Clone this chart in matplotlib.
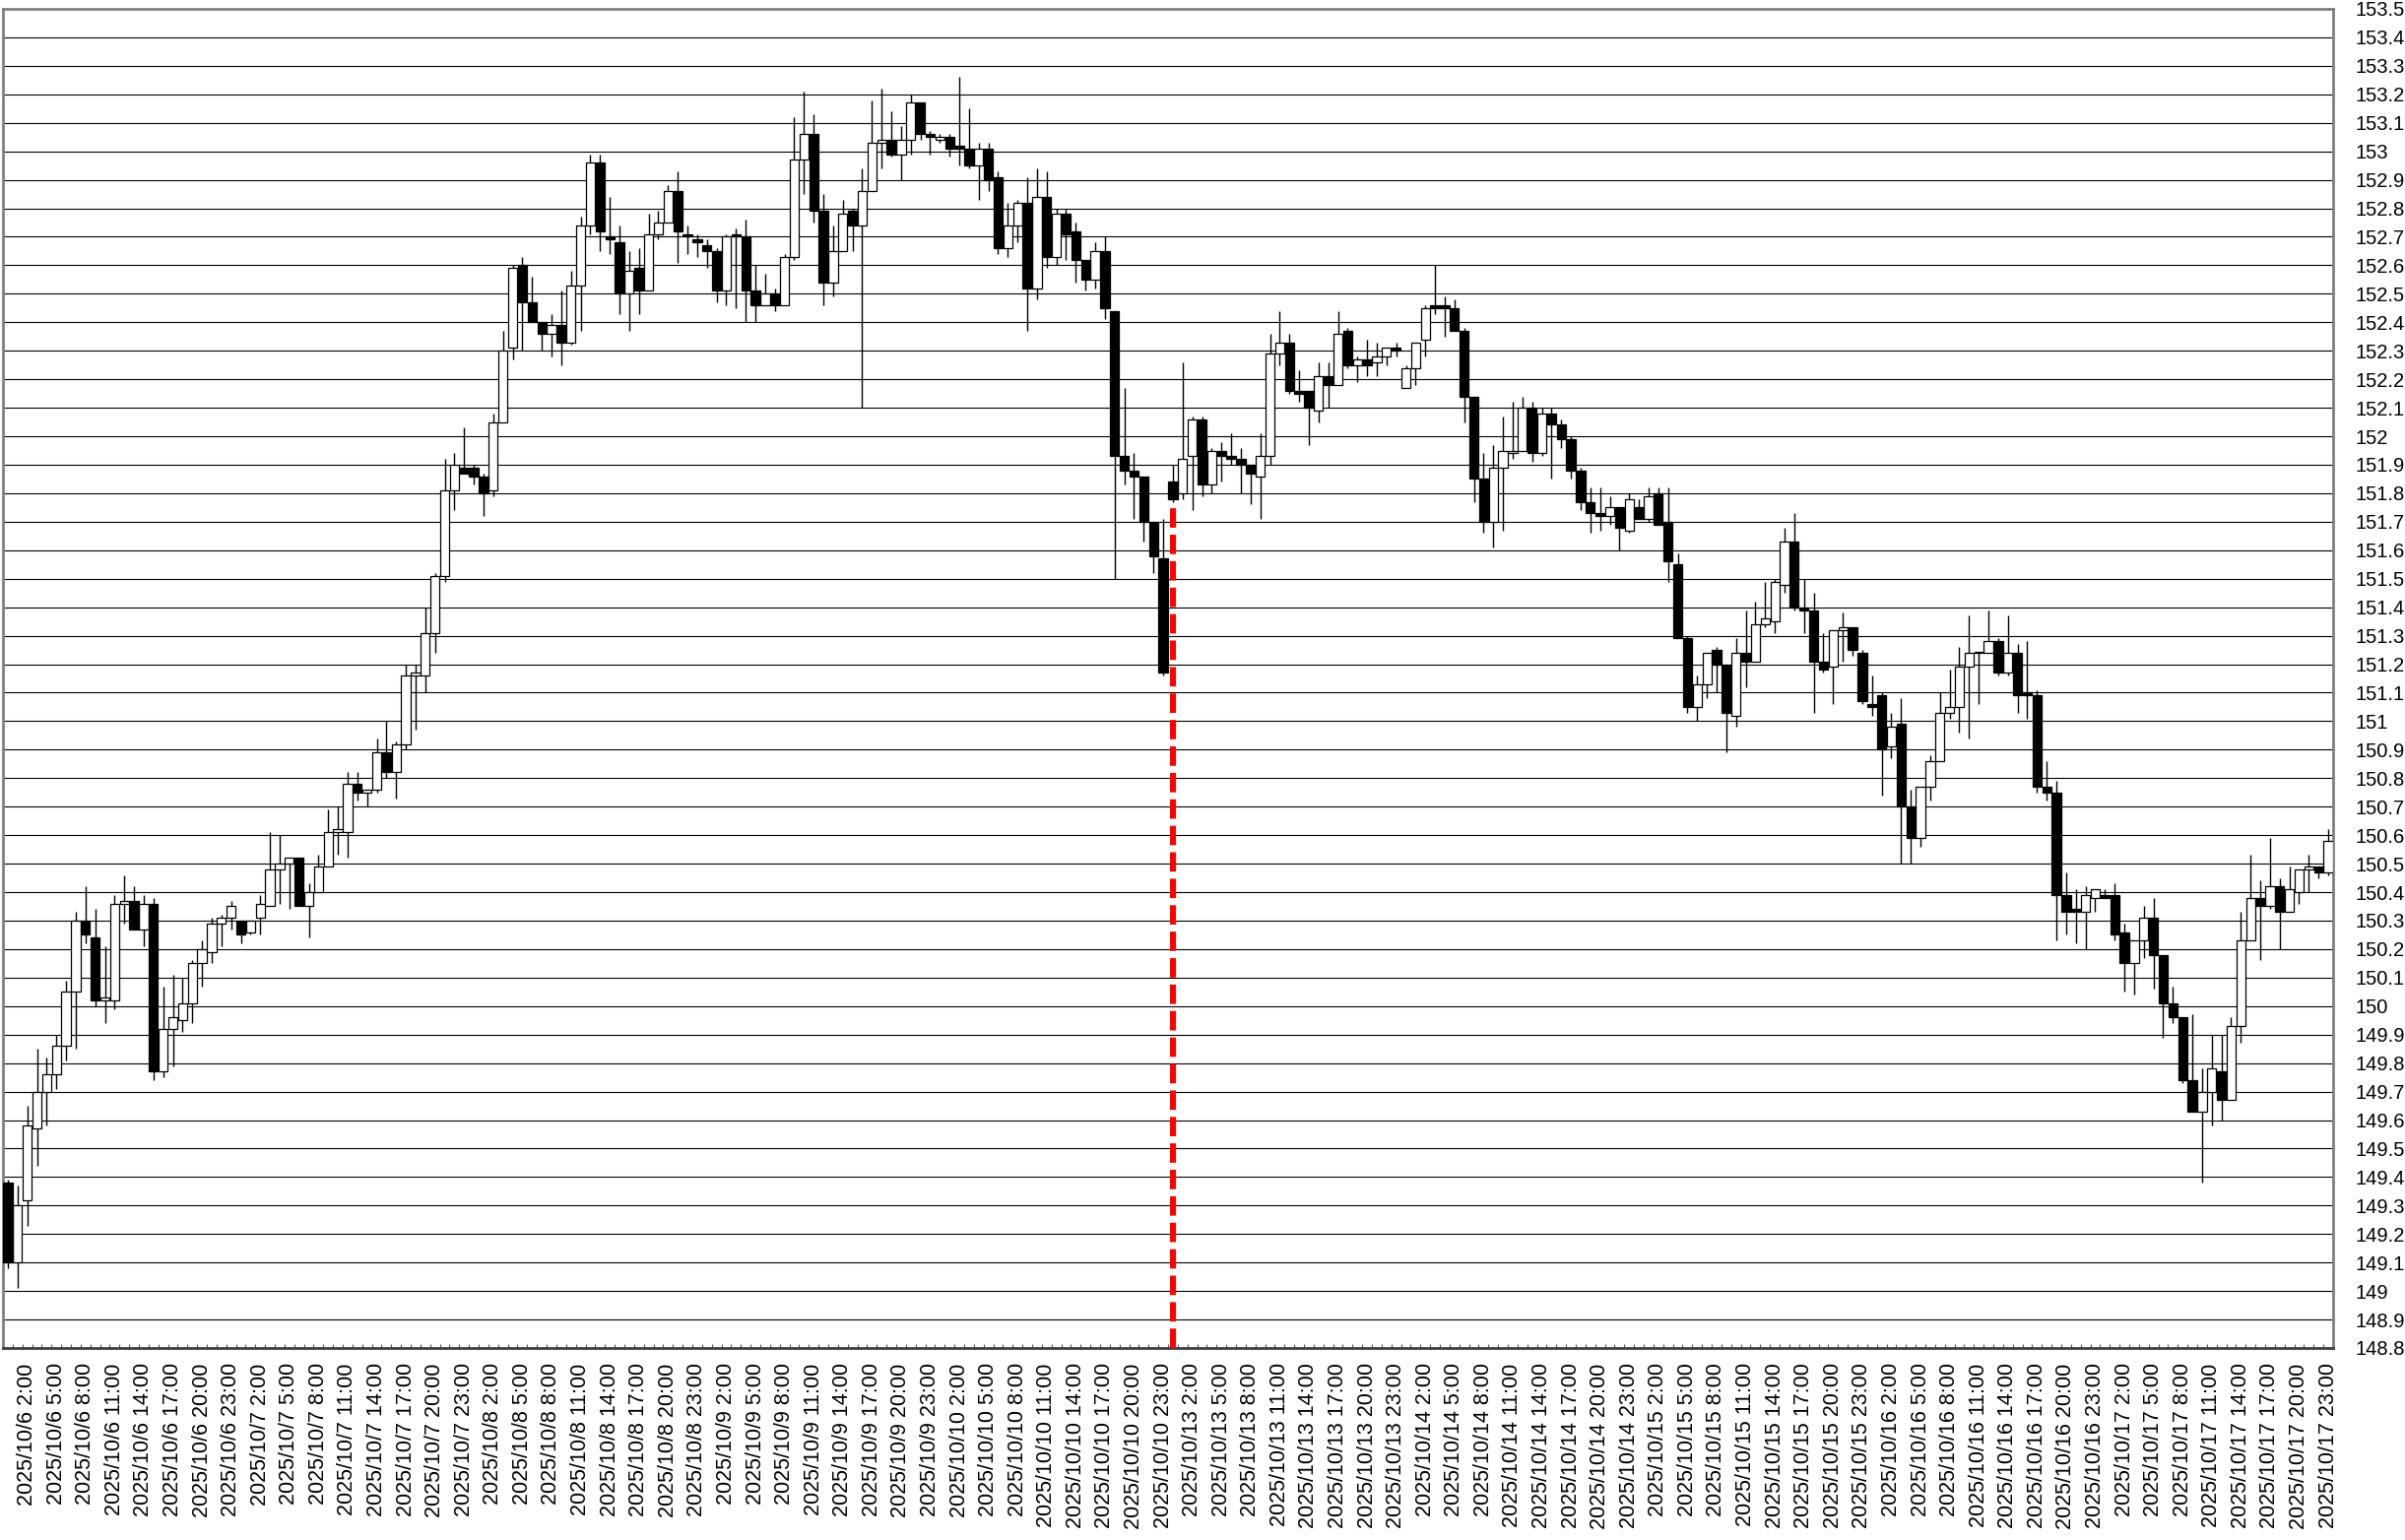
import matplotlib.pyplot as plt
import numpy as np

# hourly candles, weekend 10/11-10/12 skipped
days = [6, 7, 8, 9, 10, 13, 14, 15, 16, 17]
hours = list(range(24))

opens = [
    149.38, 149.10, 149.32, 149.57, 149.70, 149.76, 149.86, 150.05, 150.30, 150.24,
    150.02, 150.02, 150.36, 150.37, 150.27, 150.36, 149.77, 149.92, 149.95, 150.01,
    150.15, 150.19, 150.29, 150.31, 150.30, 150.26, 150.31, 150.35, 150.48, 150.50,
    150.52, 150.35, 150.40, 150.49, 150.61, 150.61, 150.78, 150.75, 150.76, 150.89,
    150.82, 150.92, 151.16, 151.16, 151.31, 151.51, 151.81, 151.89, 151.89, 151.86,
    151.81, 152.05, 152.31, 152.60, 152.47, 152.40, 152.36, 152.39, 152.33, 152.53,
    152.74, 152.96, 152.70, 152.68, 152.50, 152.59, 152.51, 152.71, 152.75, 152.86,
    152.71, 152.69, 152.67, 152.65, 152.51, 152.71, 152.70, 152.51, 152.46, 152.50,
    152.46, 152.63, 152.97, 153.06, 152.79, 152.54, 152.65, 152.79, 152.74, 152.86,
    153.03, 153.04, 152.99, 153.04, 153.17, 153.06, 153.04, 153.05, 153.02, 153.01,
    152.95, 153.01, 152.91, 152.66, 152.74, 152.82, 152.52, 152.84, 152.63, 152.78,
    152.72, 152.62, 152.55, 152.65, 152.44, 151.93, 151.88, 151.86, 151.70, 151.57,
    151.84, 151.80, 151.93, 152.06, 151.83, 151.95, 151.93, 151.92, 151.90, 151.86,
    151.93, 152.29, 152.33, 152.16, 152.16, 152.09, 152.21, 152.18, 152.37, 152.25,
    152.27, 152.26, 152.28, 152.31, 152.17, 152.24, 152.34, 152.46, 152.46, 152.45,
    152.37, 152.14, 151.85, 151.70, 151.89, 151.94, 151.95, 152.10, 151.94, 152.08,
    152.04, 151.99, 151.88, 151.77, 151.73, 151.72, 151.75, 151.67, 151.75, 151.71,
    151.80, 151.70, 151.55, 151.29, 151.05, 151.13, 151.25, 151.20, 151.02, 151.24,
    151.21, 151.34, 151.35, 151.48, 151.63, 151.40, 151.39, 151.21, 151.19, 151.32,
    151.33, 151.24, 151.06, 151.09, 150.91, 150.99, 150.70, 150.59, 150.77, 150.86,
    151.03, 151.05, 151.19, 151.24, 151.24, 151.28, 151.17, 151.24, 151.10, 151.09,
    150.77, 150.75, 150.39, 150.34, 150.33, 150.38, 150.39, 150.39, 150.26, 150.15,
    150.23, 150.31, 150.18, 150.01, 149.96, 149.74, 149.63, 149.70, 149.77, 149.67,
    149.93, 150.23, 150.38, 150.35, 150.42, 150.33, 150.40, 150.48, 150.49, 150.47,
]

highs = [
    149.39, 149.37, 149.65, 149.85, 149.82, 149.90, 150.09, 150.33, 150.42, 150.34,
    150.21, 150.39, 150.46, 150.42, 150.39, 150.38, 150.07, 150.11, 150.10, 150.16,
    150.23, 150.31, 150.32, 150.37, 150.30, 150.30, 150.39, 150.61, 150.60, 150.52,
    150.52, 150.43, 150.53, 150.69, 150.70, 150.82, 150.82, 150.76, 150.94, 151.00,
    150.93, 151.20, 151.20, 151.40, 151.52, 151.92, 151.94, 152.03, 151.90, 151.87,
    152.08, 152.37, 152.60, 152.63, 152.56, 152.40, 152.43, 152.51, 152.58, 152.77,
    152.99, 152.99, 152.84, 152.74, 152.65, 152.66, 152.78, 152.79, 152.88, 152.93,
    152.74, 152.71, 152.69, 152.66, 152.71, 152.73, 152.76, 152.60, 152.57, 152.52,
    152.64, 153.12, 153.21, 153.13, 152.85, 152.74, 152.83, 152.80, 152.94, 153.18,
    153.22, 153.14, 153.09, 153.20, 153.17, 153.07, 153.06, 153.06, 153.26, 153.15,
    153.03, 153.03, 152.93, 152.82, 152.83, 152.91, 152.94, 152.93, 152.80, 152.80,
    152.75, 152.62, 152.68, 152.70, 152.44, 152.17, 151.94, 151.86, 151.70, 151.71,
    151.90, 152.26, 152.07, 152.07, 151.96, 151.98, 152.01, 151.96, 151.90, 152.01,
    152.36, 152.44, 152.36, 152.23, 152.16, 152.26, 152.26, 152.44, 152.38, 152.28,
    152.34, 152.33, 152.31, 152.33, 152.25, 152.33, 152.46, 152.60, 152.49, 152.48,
    152.38, 152.14, 151.94, 151.97, 152.07, 152.12, 152.14, 152.12, 152.10, 152.10,
    152.06, 152.00, 151.89, 151.82, 151.82, 151.79, 151.75, 151.80, 151.78, 151.82,
    151.82, 151.82, 151.59, 151.30, 151.16, 151.24, 151.26, 151.20, 151.29, 151.39,
    151.42, 151.49, 151.50, 151.68, 151.73, 151.50, 151.45, 151.31, 151.32, 151.38,
    151.33, 151.25, 151.16, 151.10, 151.03, 151.08, 150.76, 150.77, 150.88, 151.10,
    151.18, 151.26, 151.37, 151.24, 151.39, 151.29, 151.37, 151.27, 151.28, 151.11,
    150.86, 150.79, 150.47, 150.41, 150.42, 150.41, 150.41, 150.43, 150.29, 150.23,
    150.35, 150.38, 150.18, 150.07, 149.96, 149.97, 149.78, 149.90, 149.90, 149.96,
    150.33, 150.53, 150.44, 150.59, 150.45, 150.49, 150.48, 150.53, 150.49, 150.62,
]

lows = [
    149.08, 149.01, 149.23, 149.44, 149.58, 149.71, 149.81, 149.85, 150.22, 150.00,
    149.94, 149.99, 150.29, 150.27, 150.21, 149.74, 149.75, 149.79, 149.91, 149.94,
    150.07, 150.15, 150.21, 150.27, 150.22, 150.25, 150.25, 150.35, 150.36, 150.34,
    150.35, 150.24, 150.40, 150.49, 150.53, 150.52, 150.72, 150.70, 150.75, 150.80,
    150.73, 150.90, 150.97, 151.10, 151.24, 151.49, 151.74, 151.87, 151.83, 151.72,
    151.79, 152.05, 152.27, 152.30, 152.40, 152.30, 152.28, 152.25, 152.32, 152.37,
    152.71, 152.65, 152.64, 152.43, 152.37, 152.43, 152.51, 152.69, 152.75, 152.61,
    152.64, 152.63, 152.59, 152.47, 152.46, 152.45, 152.40, 152.40, 152.46, 152.44,
    152.46, 152.62, 152.85, 152.75, 152.46, 152.49, 152.65, 152.65, 152.10, 152.86,
    152.94, 152.98, 152.90, 152.99, 153.04, 152.99, 153.03, 152.98, 152.95, 152.94,
    152.83, 152.86, 152.64, 152.63, 152.68, 152.37, 152.48, 152.59, 152.60, 152.62,
    152.54, 152.51, 152.52, 152.41, 151.50, 151.83, 151.71, 151.63, 151.52, 151.16,
    151.77, 151.78, 151.74, 151.79, 151.80, 151.84, 151.90, 151.80, 151.76, 151.71,
    151.90, 152.25, 152.15, 152.12, 151.97, 152.05, 152.10, 152.18, 152.24, 152.19,
    152.21, 152.21, 152.25, 152.28, 152.17, 152.18, 152.28, 152.43, 152.35, 152.37,
    152.05, 151.77, 151.66, 151.61, 151.67, 151.92, 151.95, 151.91, 151.93, 151.85,
    151.96, 151.85, 151.74, 151.66, 151.67, 151.69, 151.60, 151.66, 151.71, 151.70,
    151.69, 151.49, 151.29, 151.03, 151.00, 151.08, 151.10, 150.89, 150.98, 151.12,
    151.21, 151.33, 151.31, 151.45, 151.39, 151.31, 151.03, 151.17, 151.06, 151.21,
    151.23, 151.06, 151.02, 150.74, 150.87, 150.50, 150.50, 150.56, 150.72, 150.86,
    151.01, 150.96, 150.94, 151.06, 151.24, 151.16, 151.16, 151.03, 151.01, 150.75,
    150.72, 150.23, 150.25, 150.22, 150.20, 150.33, 150.38, 150.23, 150.05, 150.04,
    150.17, 150.06, 149.89, 149.94, 149.73, 149.63, 149.38, 149.58, 149.60, 149.67,
    149.87, 150.23, 150.16, 150.34, 150.20, 150.33, 150.36, 150.40, 150.45, 150.46,
]

closes = [
    149.10, 149.30, 149.58, 149.70, 149.76, 149.86, 150.05, 150.30, 150.25, 150.02,
    150.03, 150.36, 150.37, 150.27, 150.36, 149.77, 149.92, 149.96, 150.01, 150.15,
    150.20, 150.29, 150.31, 150.35, 150.25, 150.30, 150.36, 150.48, 150.50, 150.52,
    150.35, 150.40, 150.49, 150.61, 150.62, 150.78, 150.75, 150.76, 150.89, 150.82,
    150.92, 151.16, 151.17, 151.31, 151.51, 151.81, 151.90, 151.87, 151.86, 151.80,
    152.05, 152.30, 152.59, 152.47, 152.40, 152.36, 152.39, 152.33, 152.53, 152.74,
    152.96, 152.72, 152.69, 152.50, 152.58, 152.51, 152.71, 152.75, 152.86, 152.72,
    152.70, 152.68, 152.65, 152.51, 152.70, 152.70, 152.51, 152.46, 152.50, 152.46,
    152.63, 152.97, 153.06, 152.79, 152.54, 152.65, 152.78, 152.74, 152.86, 153.03,
    153.04, 152.99, 153.04, 153.17, 153.06, 153.05, 153.05, 153.01, 153.01, 152.95,
    153.01, 152.90, 152.66, 152.74, 152.82, 152.52, 152.84, 152.63, 152.78, 152.71,
    152.62, 152.55, 152.65, 152.45, 151.93, 151.88, 151.86, 151.70, 151.58, 151.17,
    151.78, 151.92, 152.06, 151.83, 151.95, 151.93, 151.92, 151.90, 151.87, 151.93,
    152.29, 152.33, 152.16, 152.15, 152.10, 152.21, 152.18, 152.36, 152.25, 152.27,
    152.25, 152.28, 152.31, 152.30, 152.24, 152.33, 152.45, 152.45, 152.45, 152.37,
    152.14, 151.85, 151.70, 151.89, 151.95, 151.95, 152.10, 151.94, 152.08, 152.04,
    151.99, 151.88, 151.77, 151.73, 151.72, 151.75, 151.68, 151.78, 151.71, 151.79,
    151.69, 151.56, 151.29, 151.05, 151.13, 151.24, 151.20, 151.03, 151.24, 151.21,
    151.34, 151.36, 151.49, 151.63, 151.40, 151.39, 151.21, 151.18, 151.32, 151.33,
    151.25, 151.07, 151.05, 150.90, 150.98, 150.70, 150.59, 150.77, 150.86, 151.03,
    151.05, 151.19, 151.24, 151.24, 151.28, 151.17, 151.24, 151.09, 151.09, 150.77,
    150.75, 150.39, 150.33, 150.33, 150.39, 150.41, 150.38, 150.25, 150.15, 150.23,
    150.31, 150.18, 150.01, 149.96, 149.74, 149.63, 149.70, 149.78, 149.67, 149.93,
    150.23, 150.38, 150.35, 150.42, 150.33, 150.41, 150.48, 150.49, 150.47, 150.58,
]

# red dashed marker (week start) and its top price
marker_index = 120
marker_top = 151.75

labels = ['2025/10/%d %d:00' % (d, h) for d in days for h in hours]

o = np.array(opens)
h = np.array(highs)
l = np.array(lows)
c = np.array(closes)
x = np.arange(len(o))
up = c >= o

fig = plt.figure(figsize=(24.42, 15.64), dpi=100)
ax = fig.add_axes([3 / 2442, 195 / 1564, 2366 / 2442, 1360 / 1564])

ax.vlines(x, l, h, colors='black', linewidth=1.0, zorder=2)
body_low = np.minimum(o, c)
body_h = np.maximum(np.abs(c - o), 0.004)
ax.bar(x[up], body_h[up], bottom=body_low[up], width=0.94,
       color='white', edgecolor='black', linewidth=0.9, zorder=3)
ax.bar(x[~up], body_h[~up], bottom=body_low[~up], width=0.94,
       color='black', edgecolor='black', linewidth=0.9, zorder=3)

ax.plot([marker_index, marker_index], [148.8, marker_top], color='red',
        linewidth=4.3, dashes=(3.3, 1.2), zorder=4)

ax.set_xlim(-0.5, len(o) - 0.5)
ax.set_ylim(148.8, 153.5)

yt = np.round(np.arange(148.8, 153.51, 0.1), 1)
ax.set_yticks(yt)
ax.set_yticklabels(['%g' % v for v in yt],
                   family=['Liberation Sans Narrow', 'Liberation Sans', 'DejaVu Sans'])
ax.yaxis.tick_right()
ax.tick_params(axis='y', length=0, pad=16, labelsize=14.5)
ax.grid(axis='y', color='black', linewidth=0.8)
ax.set_axisbelow(True)

ax.set_xticks(x[2::3])
ax.set_xticklabels(labels[2::3], rotation=90, fontsize=15.5,
                   family=['Liberation Sans', 'DejaVu Sans'])
ax.set_xticks(np.arange(-0.5, len(o), 1), minor=True)
ax.tick_params(axis='x', which='major', length=0, pad=11)
ax.tick_params(axis='x', which='minor', direction='in', length=3, width=0.8,
               color='#555555')

for side in ['left', 'right', 'top']:
    ax.spines[side].set_color('#808080')
    ax.spines[side].set_linewidth(2)
ax.spines['bottom'].set_color('#404040')
ax.spines['bottom'].set_linewidth(2)

plt.savefig('out.png', dpi=100)
